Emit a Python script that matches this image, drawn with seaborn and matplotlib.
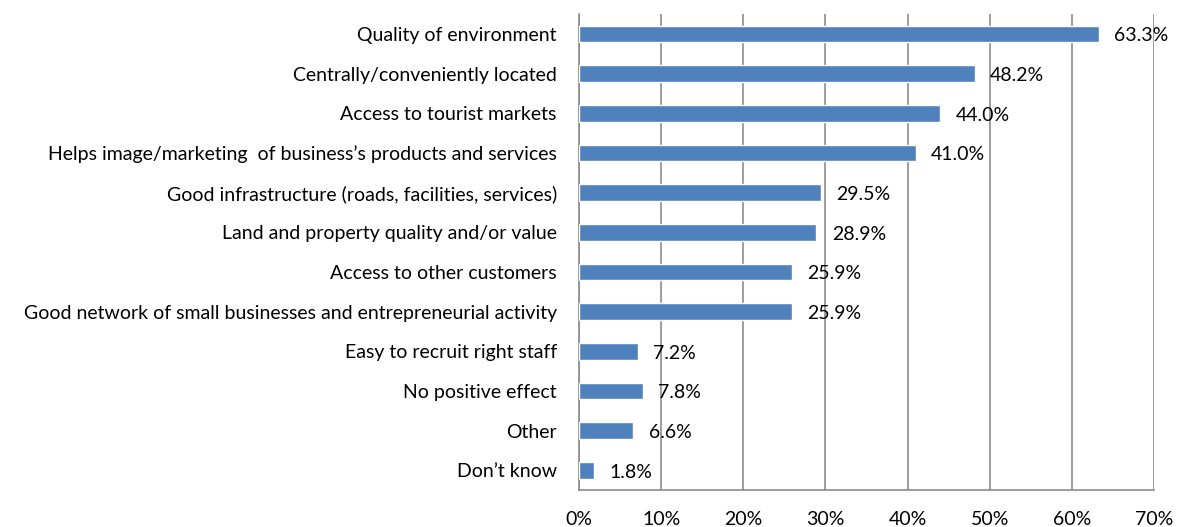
import matplotlib
matplotlib.use("Agg")
import matplotlib.pyplot as plt
import seaborn as sns
import pandas as pd
import numpy as np
from matplotlib.ticker import FixedLocator, PercentFormatter

categories = [
    "Quality of environment",
    "Centrally/conveniently located",
    "Access to tourist markets",
    "Helps image/marketing  of business\u2019s products and services",
    "Good infrastructure (roads, facilities, services)",
    "Land and property quality and/or value",
    "Access to other customers",
    "Good network of small businesses and entrepreneurial activity",
    "Easy to recruit right staff",
    "No positive effect",
    "Other",
    "Don\u2019t know",
]
values = [63.3, 48.2, 44.0, 41.0, 29.5, 28.9, 25.9, 25.9, 7.2, 7.8, 6.6, 1.8]
x_ticks = [0, 10, 20, 30, 40, 50, 60, 70]

df = pd.DataFrame({"category": categories, "value": values})

sns.set_style("white")
plt.rcParams["font.family"] = ["Lato", "DejaVu Sans"]

fig = plt.figure(figsize=(11.8, 5.27), dpi=100)
ax = fig.add_axes([0.4907, 0.0702, 0.978 - 0.4907, 0.9734 - 0.0702])

sns.barplot(data=df, x="value", y="category", orient="h", color="#4F81BD",
            saturation=1, width=0.42, ax=ax, zorder=3)

grid_c = "#8C8C8C"
fs = 14
ax.set_xlim(0, 70)
ax.set_ylim(len(categories) - 0.5, -0.5)
ax.xaxis.set_major_locator(FixedLocator(x_ticks))
ax.xaxis.set_major_formatter(PercentFormatter(decimals=0))
ax.grid(axis="x", color=grid_c, linewidth=1.2, zorder=0)
ax.set_axisbelow(True)

ax.set_xlabel("")
ax.set_ylabel("")

for side in ["top", "right"]:
    ax.spines[side].set_visible(False)
for side in ["left", "bottom"]:
    ax.spines[side].set_color(grid_c)
    ax.spines[side].set_linewidth(1.2)

ax.tick_params(axis="x", which="major", length=6, width=1.2, color=grid_c,
               direction="out", pad=9, labelsize=fs, labelcolor="black")
ax.tick_params(axis="y", which="major", length=0, pad=16, labelsize=fs,
               labelcolor="black")
ax.yaxis.set_minor_locator(FixedLocator(np.arange(-0.5, len(categories), 1.0)))
ax.tick_params(axis="y", which="minor", length=6, width=1.2, color=grid_c,
               direction="out")

for i, v in enumerate(values):
    ax.annotate(f"{v:.1f}%", xy=(v, i), xytext=(11, -1.5), textcoords="offset points",
                ha="left", va="center", fontsize=fs, color="black", zorder=4)

fig.savefig("out.png", dpi=100)
